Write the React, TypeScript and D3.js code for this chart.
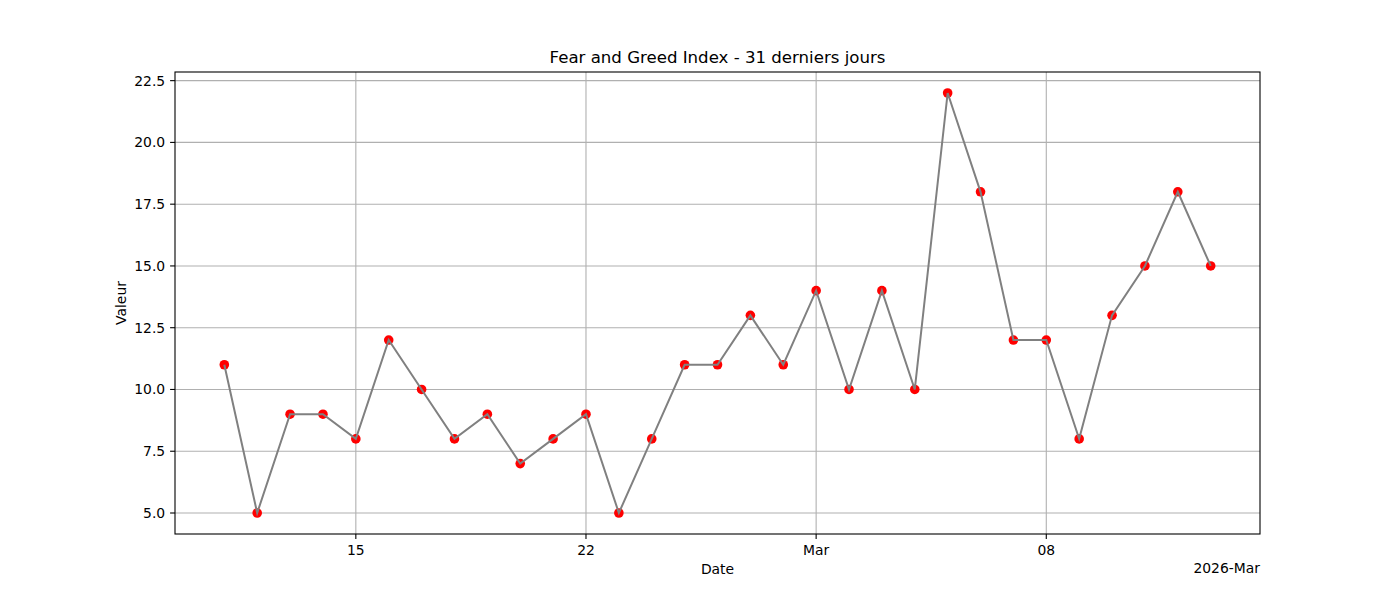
import * as d3 from "d3";

// 31 days, Feb 11 2026 -> Mar 13 2026
const startDate = new Date(2026, 1, 11);
const values = [
  11, 5, 9, 9, 8, 12, 10, 8, 9, 7, 8, 9, 5, 8, 11, 11, 13, 11, 14, 10, 14, 10,
  22, 18, 12, 12, 8, 13, 15, 18, 15,
];
const dates = values.map((_, i) => d3.timeDay.offset(startDate, i));

const xTickDates = [
  new Date(2026, 1, 15),
  new Date(2026, 1, 22),
  new Date(2026, 2, 1),
  new Date(2026, 2, 8),
];
const xTickLabels = ["15", "22", "Mar", "08"];
const yTicks = [5, 7.5, 10, 12.5, 15, 17.5, 20, 22.5];

const W = 1400;
const H = 600;
const left = 175;
const right = 1260;
const top = 72;
const bottom = 534;
const font = "DejaVu Sans, sans-serif";

export default function App() {
  // matplotlib style 5% margins
  const t0 = dates[0].getTime();
  const t1 = dates[dates.length - 1].getTime();
  const tPad = (t1 - t0) * 0.05;
  const x = d3
    .scaleTime()
    .domain([new Date(t0 - tPad), new Date(t1 + tPad)])
    .range([left, right]);
  const [vmin, vmax] = d3.extent(values) as [number, number];
  const vPad = (vmax - vmin) * 0.05;
  const y = d3
    .scaleLinear()
    .domain([vmin - vPad, vmax + vPad])
    .range([bottom, top]);

  const line = d3
    .line<number>()
    .x((_, i) => x(dates[i]))
    .y((d) => y(d));

  return (
    <svg
      width={W}
      height={H}
      style={{ position: "absolute", left: 0, top: 0, background: "#fff" }}
      fontFamily={font}
    >
      {/* grid */}
      {xTickDates.map((d, i) => (
        <line
          key={"gx" + i}
          x1={x(d)}
          x2={x(d)}
          y1={top}
          y2={bottom}
          stroke="#b0b0b0"
          strokeWidth={1.1}
        />
      ))}
      {yTicks.map((v, i) => (
        <line
          key={"gy" + i}
          x1={left}
          x2={right}
          y1={y(v)}
          y2={y(v)}
          stroke="#b0b0b0"
          strokeWidth={1.1}
        />
      ))}

      {/* markers, then line on top */}
      {values.map((v, i) => (
        <circle key={"p" + i} cx={x(dates[i])} cy={y(v)} r={4.8} fill="#ff0000" />
      ))}
      <path d={line(values) ?? ""} fill="none" stroke="#808080" strokeWidth={2} />

      {/* frame */}
      <rect
        x={left}
        y={top}
        width={right - left}
        height={bottom - top}
        fill="none"
        stroke="#000"
        strokeWidth={1.1}
      />

      {/* x ticks */}
      {xTickDates.map((d, i) => (
        <g key={"tx" + i}>
          <line x1={x(d)} x2={x(d)} y1={bottom} y2={bottom + 4.9} stroke="#000" strokeWidth={1.1} />
          <text x={x(d)} y={bottom + 20.5} textAnchor="middle" fontSize={13.9}>
            {xTickLabels[i]}
          </text>
        </g>
      ))}

      {/* y ticks */}
      {yTicks.map((v, i) => (
        <g key={"ty" + i}>
          <line x1={left - 4.9} x2={left} y1={y(v)} y2={y(v)} stroke="#000" strokeWidth={1.1} />
          <text
            x={left - 9.8}
            y={y(v)}
            textAnchor="end"
            dominantBaseline="central"
            fontSize={13.9}
          >
            {v.toFixed(1)}
          </text>
        </g>
      ))}

      {/* labels */}
      <text x={(left + right) / 2} y={63} textAnchor="middle" fontSize={16.6}>
        Fear and Greed Index - 31 derniers jours
      </text>
      <text x={(left + right) / 2} y={574} textAnchor="middle" fontSize={13.9}>
        Date
      </text>
      <text x={right} y={573} textAnchor="end" fontSize={13.9}>
        2026-Mar
      </text>
      <text
        transform={`translate(126, ${(top + bottom) / 2}) rotate(-90)`}
        textAnchor="middle"
        fontSize={13.9}
      >
        Valeur
      </text>
    </svg>
  );
}
